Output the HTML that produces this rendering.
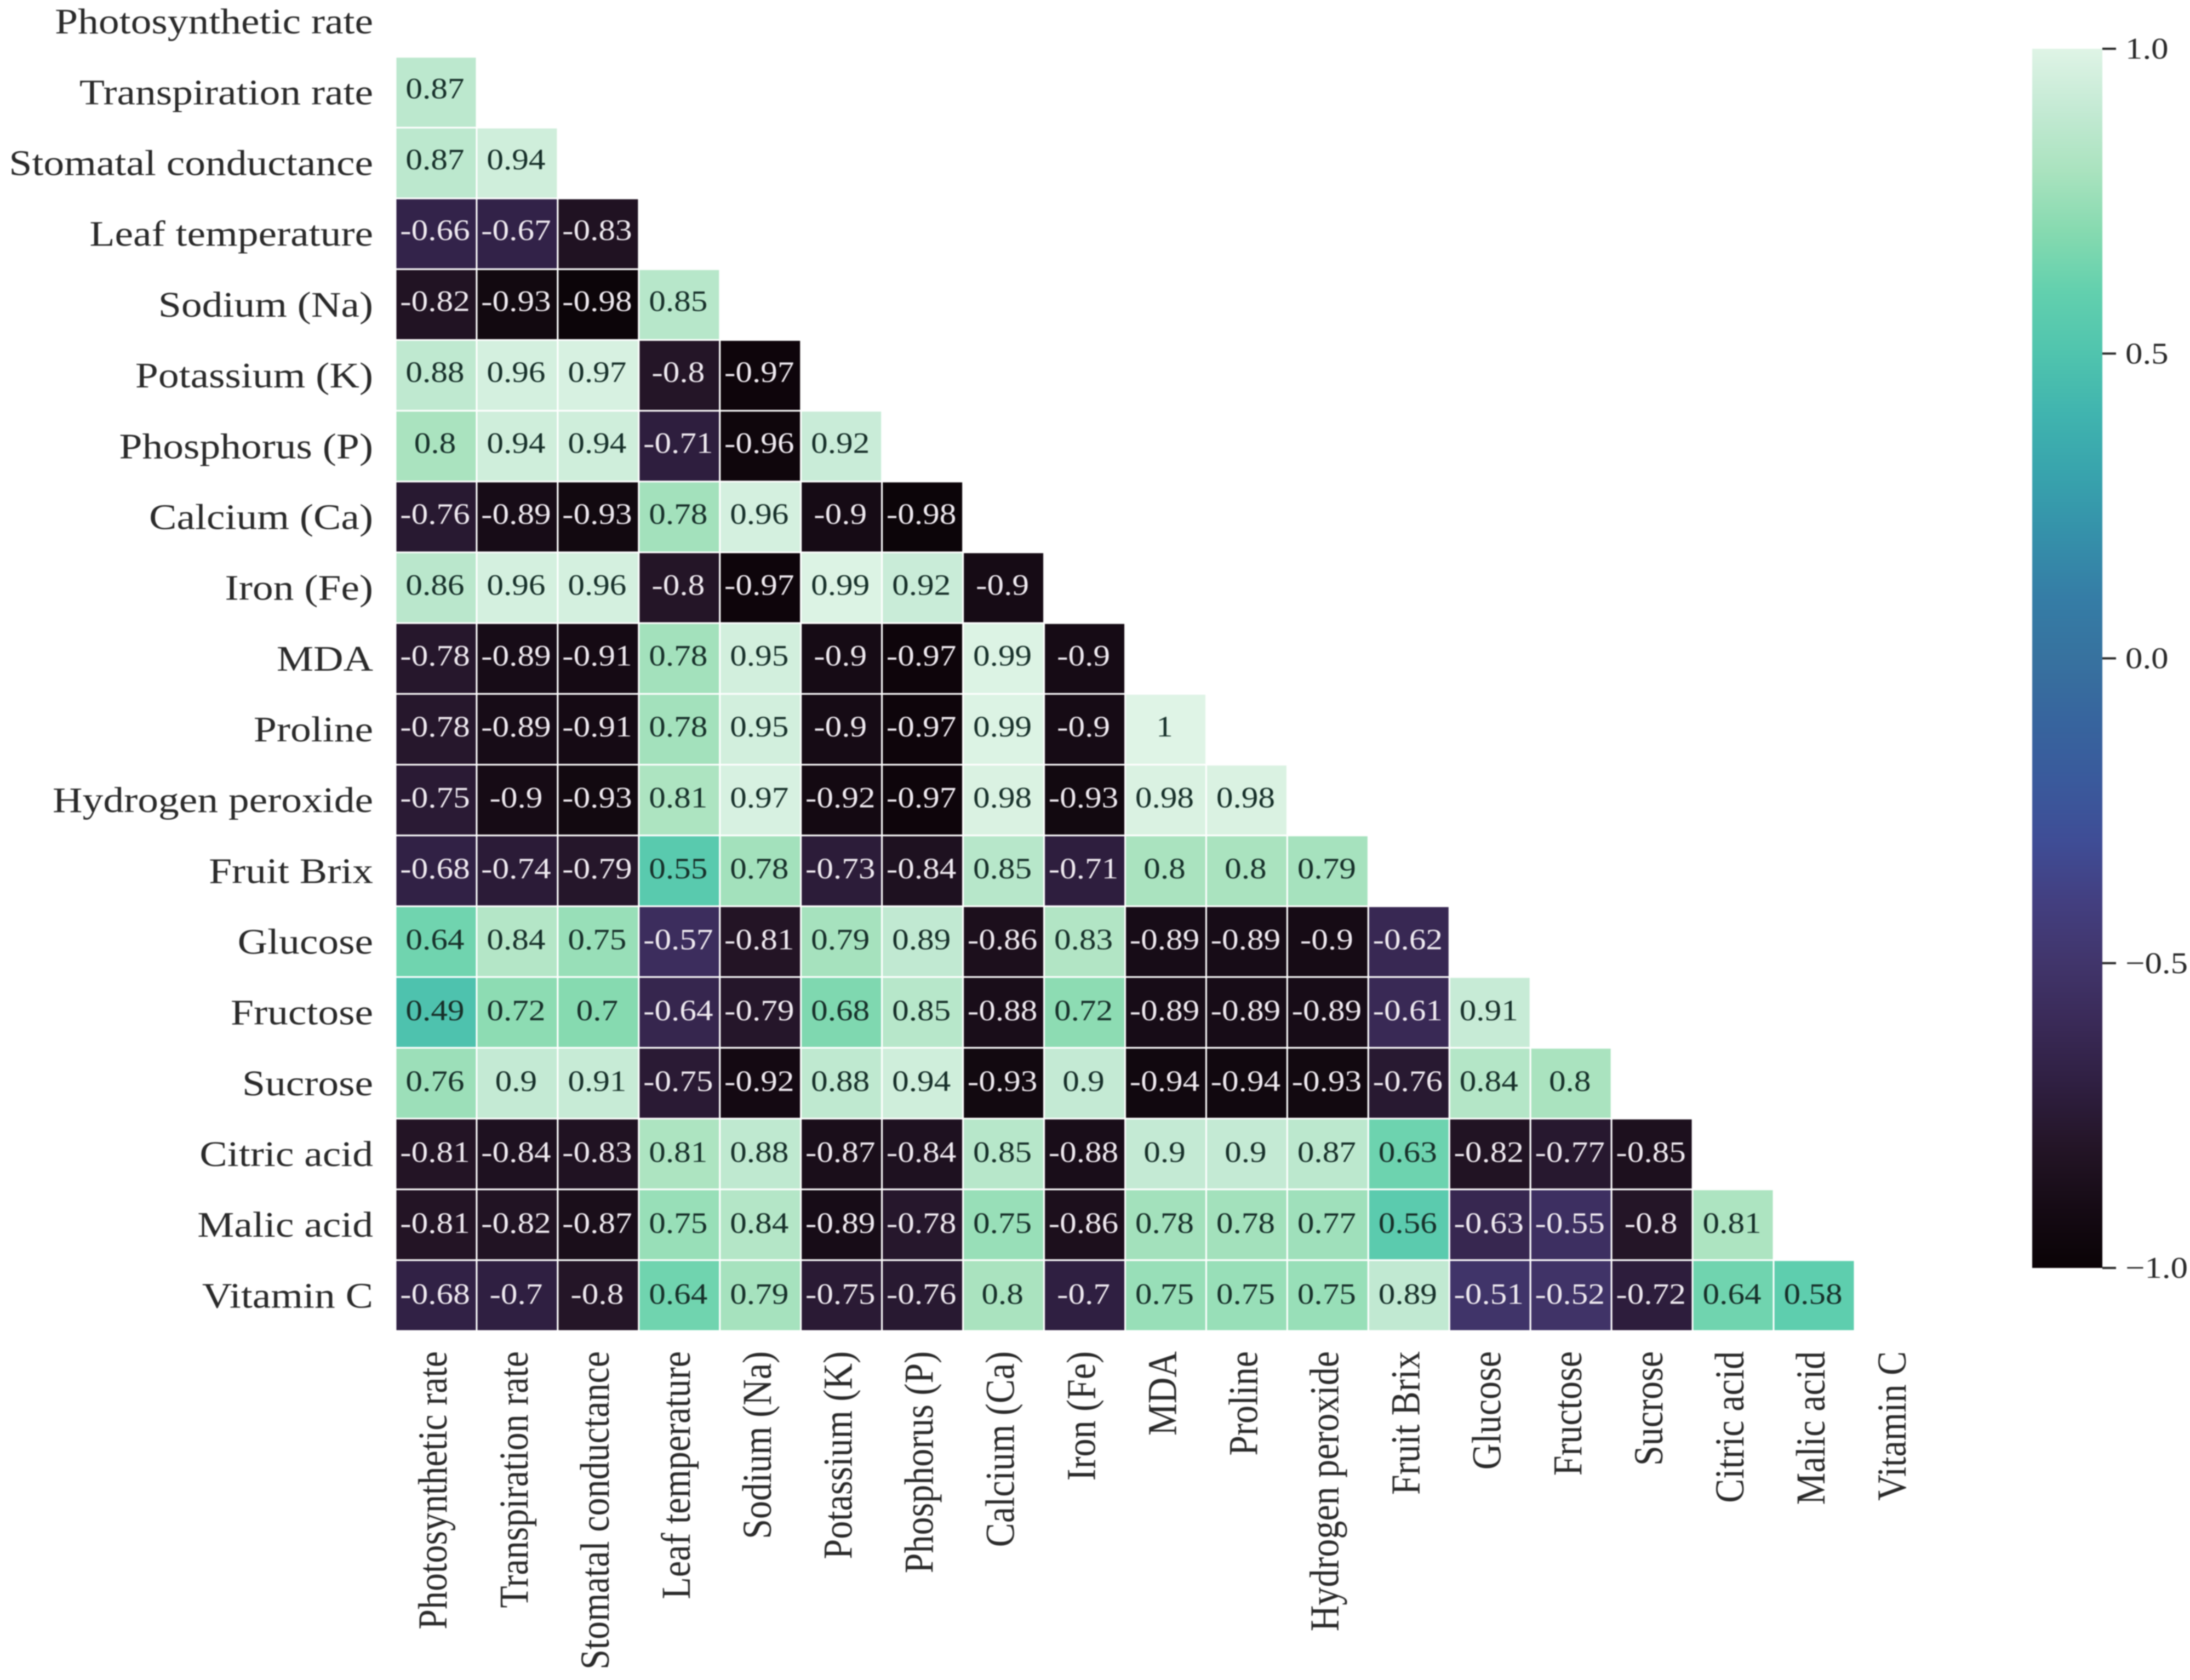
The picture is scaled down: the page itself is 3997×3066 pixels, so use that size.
<!DOCTYPE html>
<html lang="en">
<head>
<meta charset="utf-8">
<title>Correlation heatmap</title>
<style>
html,body{margin:0;padding:0;background:#fff;width:3997px;height:3066px;overflow:hidden}
svg{display:block;filter:blur(1px)}
text{font-family:"Liberation Serif","DejaVu Serif",serif}
</style>
</head>
<body>
<svg id="chart" xmlns="http://www.w3.org/2000/svg" width="3997" height="3066" viewBox="0 0 3997 3066">
<defs>
<linearGradient id="cbar-gradient" x1="0" y1="0" x2="0" y2="1"></linearGradient>
</defs>
<g id="cells"></g>
<g id="annots"></g>
<g id="ylabels"></g>
<g id="xlabels"></g>
<g id="cbar"></g>
</svg>
<script>
const categories = ["Photosynthetic rate","Transpiration rate","Stomatal conductance","Leaf temperature","Sodium (Na)","Potassium (K)","Phosphorus (P)","Calcium (Ca)","Iron (Fe)","MDA","Proline","Hydrogen peroxide","Fruit Brix","Glucose","Fructose","Sucrose","Citric acid","Malic acid","Vitamin C"];

const row01 = [0.87];
const row02 = [0.87,0.94];
const row03 = [-0.66,-0.67,-0.83];
const row04 = [-0.82,-0.93,-0.98,0.85];
const row05 = [0.88,0.96,0.97,-0.8,-0.97];
const row06 = [0.8,0.94,0.94,-0.71,-0.96,0.92];
const row07 = [-0.76,-0.89,-0.93,0.78,0.96,-0.9,-0.98];
const row08 = [0.86,0.96,0.96,-0.8,-0.97,0.99,0.92,-0.9];
const row09 = [-0.78,-0.89,-0.91,0.78,0.95,-0.9,-0.97,0.99,-0.9];
const row10 = [-0.78,-0.89,-0.91,0.78,0.95,-0.9,-0.97,0.99,-0.9,1];
const row11 = [-0.75,-0.9,-0.93,0.81,0.97,-0.92,-0.97,0.98,-0.93,0.98,0.98];
const row12 = [-0.68,-0.74,-0.79,0.55,0.78,-0.73,-0.84,0.85,-0.71,0.8,0.8,0.79];
const row13 = [0.64,0.84,0.75,-0.57,-0.81,0.79,0.89,-0.86,0.83,-0.89,-0.89,-0.9,-0.62];
const row14 = [0.49,0.72,0.7,-0.64,-0.79,0.68,0.85,-0.88,0.72,-0.89,-0.89,-0.89,-0.61,0.91];
const row15 = [0.76,0.9,0.91,-0.75,-0.92,0.88,0.94,-0.93,0.9,-0.94,-0.94,-0.93,-0.76,0.84,0.8];
const row16 = [-0.81,-0.84,-0.83,0.81,0.88,-0.87,-0.84,0.85,-0.88,0.9,0.9,0.87,0.63,-0.82,-0.77,-0.85];
const row17 = [-0.81,-0.82,-0.87,0.75,0.84,-0.89,-0.78,0.75,-0.86,0.78,0.78,0.77,0.56,-0.63,-0.55,-0.8,0.81];
const row18 = [-0.68,-0.7,-0.8,0.64,0.79,-0.75,-0.76,0.8,-0.7,0.75,0.75,0.75,0.89,-0.51,-0.52,-0.72,0.64,0.58];
const matrixRows = [row01,row02,row03,row04,row05,row06,row07,row08,row09,row10,row11,row12,row13,row14,row15,row16,row17,row18];

const colorbarTicks = [1,0.5,0,-0.5,-1];
const colorbarTickLabels = ["1.0","0.5","0.0","\u22120.5","\u22121.0"];

/* colormap: value on the colour scale, and the colour */
const cmapValues = [-1,-0.9,-0.8,-0.7,-0.6,-0.5,-0.4,-0.3,-0.2,-0.1,0,0.1,0.2,0.3,0.4,0.5,0.6,0.7,0.8,0.9,1];
const cmapColors = ["#0a0306","#160b15","#241527","#2f1f41","#3a2a57","#41356b","#433f80","#3f4d96","#3a5a9c","#37659e","#37729f","#357da6","#3590aa","#38a3ad","#40b4af","#50c4ae","#62d0ae","#86dab0","#aae3bf","#c4ead4","#dff4e6"];

const NS = "http://www.w3.org/2000/svg";
const STRETCH = 1.144;            /* the figure is stretched horizontally */
const PLOT_LEFT = 722, PLOT_RIGHT = 3385, PLOT_TOP = -25.4, PLOT_BOTTOM = 2429;
const CBAR_LEFT = 3709, CBAR_RIGHT = 3837, CBAR_TOP = 89, CBAR_BOTTOM = 2314;
const LABEL_SIZE = 66, ANNOT_SIZE = 53.5, CBAR_LABEL_SIZE = 55;
const TICK_COLOR = "#2a2a2a";

const colW = (PLOT_RIGHT - PLOT_LEFT) / (categories.length - 1);
const rowH = (PLOT_BOTTOM - PLOT_TOP) / categories.length;
function xScale(i){ return PLOT_LEFT + i * colW; }
function yScale(i){ return PLOT_TOP + i * rowH; }
function cbarY(v){ return CBAR_BOTTOM - (v + 1) / 2 * (CBAR_BOTTOM - CBAR_TOP); }

function hexToRgb(h){ return [1,3,5].map(function(k){ return parseInt(h.substr(k,2),16); }); }
function colorScale(v){
  const n = cmapValues.length;
  if (v <= cmapValues[0]) return cmapColors[0];
  if (v >= cmapValues[n-1]) return cmapColors[n-1];
  let k = 0;
  while (cmapValues[k+1] < v) k++;
  const t = (v - cmapValues[k]) / (cmapValues[k+1] - cmapValues[k]);
  const a = hexToRgb(cmapColors[k]), b = hexToRgb(cmapColors[k+1]);
  return "rgb(" + a.map(function(c,j){ return Math.round(c + (b[j]-c)*t); }).join(",") + ")";
}
function make(tag, attrs, parent){
  const el = document.createElementNS(NS, tag);
  for (const key in attrs) el.setAttribute(key, attrs[key]);
  parent.appendChild(el);
  return el;
}

const cellsG = document.getElementById("cells");
const annotsG = document.getElementById("annots");
const yG = document.getElementById("ylabels");
const xG = document.getElementById("xlabels");
const cbarG = document.getElementById("cbar");
const gradient = document.getElementById("cbar-gradient");

matrixRows.forEach(function(values, r){
  values.forEach(function(v, c){
    const rowIndex = r + 1;
    const x = xScale(c), y = yScale(rowIndex);
    const rect = make("rect", {x:x, y:y, width:colW, height:rowH, fill:colorScale(v), stroke:"#ffffff", "stroke-width":3}, cellsG);
    
    
    const annotOffset = 11 + 4 * (r / (matrixRows.length - 1));
    const t = make("text", {
      "text-anchor":"middle",
      "font-size":ANNOT_SIZE,
      fill: v > 0 ? "#17302a" : "#efeaf0",
      transform:"translate(" + (x + colW/2 - 2) + "," + (y + rowH/2 + annotOffset) + ") scale(" + STRETCH + ",1)"
    }, annotsG);
    t.textContent = String(v);
    
    
  });
});

categories.forEach(function(name, i){
  const yl = make("text", {
    "text-anchor":"end",
    "font-size":LABEL_SIZE,
    fill:TICK_COLOR,
    transform:"translate(681," + (yScale(i) + rowH/2 + 22) + ") scale(" + STRETCH + ",1)"
  }, yG);
  yl.textContent = name;
  
  

  const xl = make("text", {
    "text-anchor":"end",
    "font-size":LABEL_SIZE,
    fill:TICK_COLOR,
    transform:"translate(" + (xScale(i) + colW/2 + 19) + ",2466) scale(" + STRETCH + ",1) rotate(-90)"
  }, xG);
  xl.textContent = name;
  
  
});

for (let k = cmapValues.length - 1; k >= 0; k--) {
  make("stop", {offset:(1 - cmapValues[k]) / 2, "stop-color":cmapColors[k]}, gradient);
}
const cbarRect = make("rect", {x:CBAR_LEFT, y:CBAR_TOP, width:CBAR_RIGHT-CBAR_LEFT, height:CBAR_BOTTOM-CBAR_TOP, fill:"url(#cbar-gradient)"}, cbarG);



colorbarTicks.forEach(function(v, i){
  const y = cbarY(v);
  const tick = make("line", {x1:CBAR_RIGHT, x2:CBAR_RIGHT+25, y1:y, y2:y, stroke:TICK_COLOR, "stroke-width":4}, cbarG);
  
  
  const label = make("text", {
    "font-size":CBAR_LABEL_SIZE,
    fill:TICK_COLOR,
    transform:"translate(3879," + (y + 18) + ") scale(" + STRETCH + ",1)"
  }, cbarG);
  label.textContent = colorbarTickLabels[i];
  
  
});
</script>
</body>
</html>
